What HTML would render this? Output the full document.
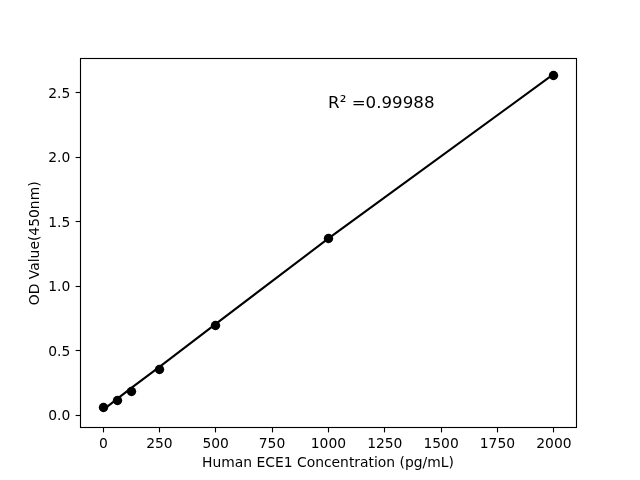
<!DOCTYPE html>
<html lang="en">
<head>
<meta charset="utf-8">
<title>Human ECE1 standard curve</title>
<style>
html,body{margin:0;padding:0;background:#fff;}
body{width:640px;height:480px;overflow:hidden;}
svg{display:block;}
text{font-family:"DejaVu Sans","Liberation Sans",sans-serif;fill:#000;}
.t{font-size:13.89px;}
.r{font-size:16.67px;}
</style>
</head>
<body>
<svg width="640" height="480" viewBox="0 0 640 480">
<rect x="0" y="0" width="640" height="480" fill="#ffffff"/>
<!-- fitted line -->
<polyline fill="none" stroke="#000" stroke-width="2.08" stroke-linecap="square" stroke-linejoin="round"
 points="102.55,410.4 117.5,398.6 131.4,387.9 159.5,366.9 215.5,324.1 328.5,238.4 553.45,74.3"/>
<!-- markers -->
<g fill="#000">
<circle cx="103.5" cy="407.5" r="4.7"/>
<circle cx="117.5" cy="400.5" r="4.7"/>
<circle cx="131.5" cy="391.5" r="4.7"/>
<circle cx="159.5" cy="369.5" r="4.7"/>
<circle cx="215.5" cy="325.5" r="4.7"/>
<circle cx="328.5" cy="238.5" r="4.7"/>
<circle cx="553.5" cy="75.5" r="4.7"/>
</g>
<!-- x ticks -->
<g stroke="#000" stroke-width="1.11">
<line x1="103.5" y1="427.5" x2="103.5" y2="432.4"/>
<line x1="159.5" y1="427.5" x2="159.5" y2="432.4"/>
<line x1="215.5" y1="427.5" x2="215.5" y2="432.4"/>
<line x1="272.5" y1="427.5" x2="272.5" y2="432.4"/>
<line x1="328.5" y1="427.5" x2="328.5" y2="432.4"/>
<line x1="384.5" y1="427.5" x2="384.5" y2="432.4"/>
<line x1="441.5" y1="427.5" x2="441.5" y2="432.4"/>
<line x1="497.5" y1="427.5" x2="497.5" y2="432.4"/>
<line x1="553.5" y1="427.5" x2="553.5" y2="432.4"/>
</g>
<!-- y ticks -->
<g stroke="#000" stroke-width="1.11">
<line x1="80.5" y1="415.5" x2="75.6" y2="415.5"/>
<line x1="80.5" y1="350.5" x2="75.6" y2="350.5"/>
<line x1="80.5" y1="286.5" x2="75.6" y2="286.5"/>
<line x1="80.5" y1="221.5" x2="75.6" y2="221.5"/>
<line x1="80.5" y1="157.5" x2="75.6" y2="157.5"/>
<line x1="80.5" y1="92.5" x2="75.6" y2="92.5"/>
</g>
<!-- spines -->
<rect x="80.5" y="58.5" width="496" height="369" fill="none" stroke="#000" stroke-width="1.11"/>
<!-- x tick labels -->
<g class="t" text-anchor="middle">
<text x="103.4" y="448">0</text>
<text x="159.4" y="448">250</text>
<text x="215.7" y="448">500</text>
<text x="272.0" y="448">750</text>
<text x="328.4" y="448">1000</text>
<text x="384.8" y="448">1250</text>
<text x="441.1" y="448">1500</text>
<text x="497.4" y="448">1750</text>
<text x="553.9" y="448">2000</text>
</g>
<!-- y tick labels -->
<g class="t" text-anchor="end">
<text x="70.3" y="420">0.0</text>
<text x="70.3" y="356">0.5</text>
<text x="70.3" y="291">1.0</text>
<text x="70.3" y="227">1.5</text>
<text x="70.3" y="162">2.0</text>
<text x="70.3" y="98">2.5</text>
</g>
<!-- axis labels -->
<text class="t" x="328" y="467" text-anchor="middle">Human ECE1 Concentration (pg/mL)</text>
<text class="t" transform="translate(38.8,243.3) rotate(-90)" text-anchor="middle">OD Value(450nm)</text>
<!-- annotation -->
<text class="r" x="328.1" y="108.4">R² =0.99988</text>
</svg>
</body>
</html>
